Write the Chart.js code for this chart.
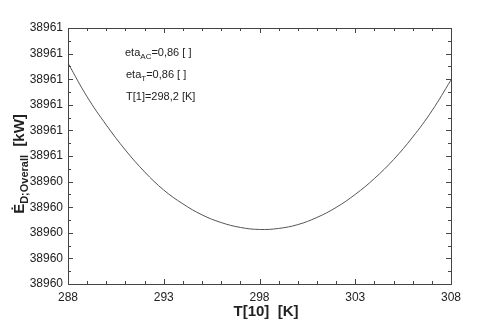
<!DOCTYPE html>
<html>
<head>
<meta charset="utf-8">
<script src="https://cdn.jsdelivr.net/npm/chart.js@4.4.0/dist/chart.umd.min.js"></script>
<style>
  html, body { margin: 0; padding: 0; background: #fff; }
  #wrap { width: 480px; height: 329px; }
</style>
</head>
<body>
<div id="wrap"><canvas id="chart" width="480" height="329"></canvas></div>
<script>
// T[10] in K
const temps = [288, 289, 290, 291, 292, 293, 294, 295, 296, 297, 298,
               299, 300, 301, 302, 303, 304, 305, 306, 307, 308];
// Exergy destruction overall, kW
const exergy = [38960.863, 38960.731, 38960.621, 38960.523, 38960.438, 38960.367,
                38960.313, 38960.270, 38960.240, 38960.221, 38960.213,
                38960.217, 38960.232, 38960.260, 38960.299, 38960.350,
                38960.412, 38960.486, 38960.574, 38960.676, 38960.797];
const xTickLabels = ['288', '293', '298', '303', '308'];
const yTickLabels = ['38960', '38960', '38960', '38960', '38960', '38961',
                     '38961', '38961', '38961', '38961', '38961'];

const FONT = 'Arial, "Liberation Sans", sans-serif';
const INK = '#222';

const points = temps.map((t, i) => ({ x: t, y: exergy[i] }));

// frame, inward ticks, axis titles and the text notes
const decor = {
  id: 'decor',
  afterDraw(chart) {
    const { ctx, chartArea: a, scales: { x, y } } = chart;
    ctx.save();
    ctx.strokeStyle = '#444';
    ctx.lineWidth = 1;
    ctx.strokeRect(a.left + 0.5, a.top + 0.5, a.right - a.left, a.bottom - a.top);

    ctx.beginPath();
    for (let t = 288; t <= 308; t++) {
      const px = Math.round(x.getPixelForValue(t)) + 0.5;
      const len = (t - 288) % 5 === 0 ? 5 : 3;
      ctx.moveTo(px, a.bottom); ctx.lineTo(px, a.bottom - len);
      ctx.moveTo(px, a.top); ctx.lineTo(px, a.top + len);
    }
    for (let k = 0; k <= 20; k++) {
      const v = 38960 + k * 0.05;
      const py = Math.round(y.getPixelForValue(v)) + 0.5;
      const len = k % 2 === 0 ? 5 : 3;
      ctx.moveTo(a.left, py); ctx.lineTo(a.left + len, py);
      ctx.moveTo(a.right, py); ctx.lineTo(a.right - len, py);
    }
    ctx.stroke();

    ctx.fillStyle = INK;
    ctx.textBaseline = 'alphabetic';

    // x title
    ctx.font = 'bold 15px ' + FONT;
    ctx.textAlign = 'center';
    ctx.fillText('T[10]  [K]', 266, 316);

    // y title with subscript
    ctx.save();
    ctx.translate(24, 164);
    ctx.rotate(-Math.PI / 2);
    ctx.textAlign = 'left';
    const big = 'bold 15px ' + FONT, small = 'bold 11px ' + FONT;
    ctx.font = big; const w1 = ctx.measureText('\u0116').width;
    ctx.font = small; const w2 = ctx.measureText('D;Overall').width;
    ctx.font = big; const w3 = ctx.measureText('  [kW]').width;
    let cx = -(w1 + w2 + w3) / 2;
    ctx.font = big; ctx.fillText('\u0116', cx, 0); cx += w1;
    ctx.font = small; ctx.fillText('D;Overall', cx, 4); cx += w2;
    ctx.font = big; ctx.fillText('  [kW]', cx, 0);
    ctx.restore();

    // notes
    const note = (parts, px, py) => {
      ctx.textAlign = 'left';
      let cx = px;
      parts.forEach(([txt, sub]) => {
        ctx.font = (sub ? '8px ' : '11px ') + FONT;
        ctx.fillText(txt, cx, py + (sub ? 3 : 0));
        cx += ctx.measureText(txt).width;
      });
    };
    note([['eta', false], ['AC', true], ['=0,86 [ ]', false]], 125, 56);
    note([['eta', false], ['T', true], ['=0,86 [ ]', false]], 126, 78);
    note([['T[1]=298,2 [K]', false]], 126, 100);
    ctx.restore();
  }
};

new Chart(document.getElementById('chart'), {
  type: 'line',
  data: {
    datasets: [{
      data: points,
      borderColor: '#555',
      borderWidth: 1,
      pointRadius: 0,
      tension: 0.4,
      fill: false
    }]
  },
  options: {
    responsive: false,
    animation: false,
    devicePixelRatio: 1,
    layout: { padding: { left: 0, top: 28, right: 29, bottom: 0 } },
    plugins: { legend: { display: false }, tooltip: { enabled: false } },
    scales: {
      x: {
        type: 'linear',
        min: 288,
        max: 308,
        afterFit: s => { s.height = 45; },
        afterBuildTicks: s => { s.ticks = xTickLabels.map(v => ({ value: Number(v) })); },
        grid: { display: false, drawTicks: false },
        border: { display: false },
        ticks: {
          padding: 6,
          color: INK,
          font: { family: FONT, size: 12 },
          maxRotation: 0,
          autoSkip: false,
          callback: (v, i) => xTickLabels[i]
        }
      },
      y: {
        type: 'linear',
        min: 38960,
        max: 38961,
        afterFit: s => { s.width = 68; },
        afterBuildTicks: s => {
          s.ticks = yTickLabels.map((_, i) => ({ value: 38960 + i * 0.1 }));
        },
        grid: { display: false, drawTicks: false },
        border: { display: false },
        ticks: {
          padding: 5,
          color: INK,
          font: { family: FONT, size: 12 },
          autoSkip: false,
          callback: (v, i) => yTickLabels[i]
        }
      }
    }
  },
  plugins: [decor]
});
</script>
</body>
</html>
